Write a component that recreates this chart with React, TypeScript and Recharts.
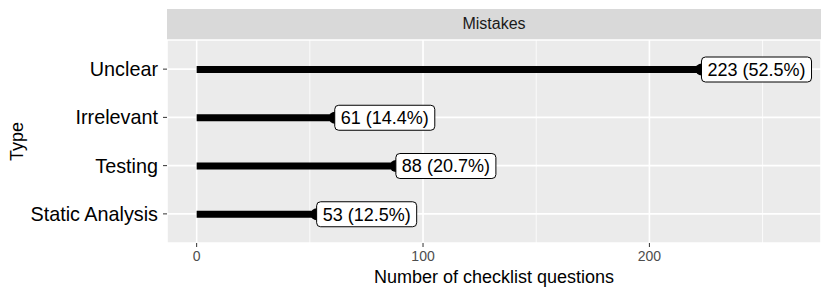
import { BarChart, Bar, XAxis, YAxis, CartesianGrid } from "recharts";

const types = ["Unclear", "Irrelevant", "Testing", "Static Analysis"];
const counts = [223, 61, 88, 53];
const shares = [52.5, 14.4, 20.7, 12.5];
const majorBreaks = [0, 100, 200];
const minorBreaks = [50, 150, 250];

const data = types.map((type, i) => ({
  type,
  count: counts[i],
  label: `${counts[i]} (${shares[i]}%)`,
}));

const FONT = '"Liberation Sans", Arial, Helvetica, sans-serif';
const LABEL_SIZE = 18;

// rough Arial widths (em) for the label glyphs
const charW: Record<string, number> = { " ": 0.278, "(": 0.333, ")": 0.333, ".": 0.278, "%": 0.889 };
const textWidth = (s: string, size: number) =>
  s.split("").reduce((w, c) => w + (charW[c] ?? 0.556), 0) * size;

function Lollipop(props: any) {
  const { x, y, width, height, payload } = props;
  const cy = y + height / 2;
  const end = x + width;
  const w = textWidth(payload.label, LABEL_SIZE) + 12;
  return (
    <g>
      <rect x={x} y={y} width={width} height={height} fill="#000" />
      <circle cx={end} cy={cy} r={6} fill="#000" />
      <rect x={end} y={cy - 12.5} width={w} height={25} rx={4} ry={4} fill="#fff" stroke="#000" strokeWidth={1} />
      <text x={end + 6} y={cy} dy="0.35em" fontSize={LABEL_SIZE} fill="#000" fontFamily={FONT}>
        {payload.label}
      </text>
    </g>
  );
}

function TypeTitle(props: any) {
  const vb = props.viewBox;
  const cx = 22.5;
  const cy = vb.y + vb.height / 2;
  return (
    <text x={cx} y={cy} transform={`rotate(-90 ${cx} ${cy})`} textAnchor="middle" fontSize={18} fill="#000" fontFamily={FONT}>
      Type
    </text>
  );
}

export default function App() {
  return (
    <div style={{ position: "absolute", left: 0, top: 0, width: 830, height: 297, background: "#fff", fontFamily: FONT }}>
      <div
        style={{
          position: "absolute",
          left: 167,
          top: 9,
          width: 654,
          height: 30.5,
          background: "#D9D9D9",
          color: "#1A1A1A",
          fontSize: 16,
          lineHeight: "30.5px",
          textAlign: "center",
        }}
      >
        Mistakes
      </div>
      <BarChart
        width={830}
        height={297}
        data={data}
        layout="vertical"
        margin={{ top: 40, right: 9, bottom: 0, left: 0 }}
        style={{ position: "absolute", left: 0, top: 0 }}
      >
        <CartesianGrid fill="#EBEBEB" stroke="#FFFFFF" strokeWidth={1.6} />
        <CartesianGrid horizontal={false} verticalValues={minorBreaks} stroke="#FFFFFF" strokeWidth={0.8} />
        <XAxis
          type="number"
          dataKey="count"
          domain={[-13.1, 275.8]}
          ticks={majorBreaks}
          allowDataOverflow
          height={54}
          axisLine={false}
          tickSize={4}
          tickMargin={4}
          tickLine={{ stroke: "#333333" }}
          tick={{ fill: "#4D4D4D", fontSize: 14, fontFamily: FONT }}
          label={{ value: "Number of checklist questions", position: "insideBottom", offset: 14, fontSize: 18, fill: "#000", fontFamily: FONT }}
        />
        <YAxis
          type="category"
          dataKey="type"
          width={167}
          padding={{ top: 5, bottom: 5 }}
          axisLine={false}
          tickSize={4}
          tickMargin={5}
          tickLine={{ stroke: "#333333" }}
          tick={{ fill: "#000", fontSize: 19.8, fontFamily: FONT }}
          label={{ content: TypeTitle }}
        />
        <Bar dataKey="count" barSize={7} shape={Lollipop} isAnimationActive={false} />
      </BarChart>
    </div>
  );
}
